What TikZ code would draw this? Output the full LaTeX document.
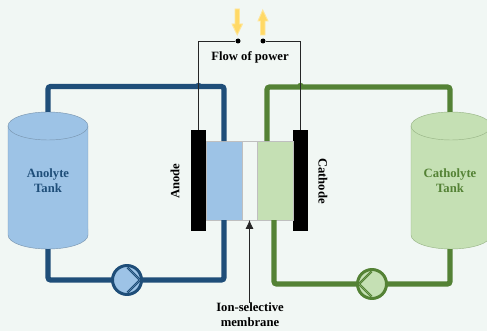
\documentclass[tikz,border=0pt]{standalone}
\usepackage{fontspec}
\setmainfont{Liberation Serif}
\usetikzlibrary{calc, positioning, shapes.geometric, arrows.meta}
\definecolor{bgtint}{HTML}{F1F7F4}
\definecolor{anolytefill}{HTML}{9DC3E6}
\definecolor{anolyteline}{HTML}{1F4E79}
\definecolor{catholytefill}{HTML}{C5E0B4}
\definecolor{catholyteline}{HTML}{548235}
\definecolor{powerfill}{HTML}{FFD966}
\definecolor{powerline}{HTML}{FFE699}
\tikzset{
	lbl/.style={font=\fontsize{7.2}{8.6}\selectfont\bfseries, align=center, inner sep=0},
	tankbody/.style={draw=#1!60!white, line width=0.25pt},
	pipe/.style={line width=3pt, rounded corners=1.5pt},
	pump/.style={circle, line width=1.7pt, minimum size=0.58cm, inner sep=0, outer sep=0},
	electrode/.style={fill=black, minimum width=0.3cm, minimum height=2.02cm, inner sep=0, outer sep=0},
	cellpart/.style={draw=black!25, line width=0.3pt, minimum width=0.72cm, minimum height=1.58cm, inner sep=0, outer sep=0},
	terminal/.style={circle, fill=black, minimum size=0.1cm, inner sep=0},
	crossing/.style={circle, minimum size=0.13cm, inner sep=0},
	wire/.style={line width=0.45pt, black!85},
	flowarrow/.style={fill=powerfill, draw=powerline, line width=0.5pt},
}

\begin{document}
\begin{tikzpicture}[x=0.02cm, y=-0.02cm]
	\fill[bgtint] (0,0) rectangle (487,331);
	\useasboundingbox (0,0) rectangle (487,331);

	% tanks
	\foreach \cx/\fillc/\linec in {48/anolytefill/anolyteline, 451/catholytefill/catholyteline}{
		\filldraw[fill=\fillc, tankbody=\linec] (\cx-40,126) arc[start angle=180, delta angle=-180, x radius=0.8cm, y radius=0.28cm] -- (\cx+40,235) arc[start angle=0, delta angle=-180, x radius=0.8cm, y radius=0.28cm] -- cycle;
		\draw[tankbody=\linec] (\cx-40,126) arc[start angle=180, delta angle=180, x radius=0.8cm, y radius=0.28cm];
	}
	\coordinate (anolytetop) at (48,112);
	\coordinate (anolytebot) at (48,249);
	\coordinate (catholytetop) at (450,112);
	\coordinate (catholytebot) at (450,249);
	\node[lbl, text=anolyteline] (anolytelbl) at (48,181) {Anolyte\\Tank};
	\node[lbl, text=catholyteline] (catholytelbl) at (450,181) {Catholyte\\Tank};

	% cell
	\node[electrode] (anode) at (198.5,180.5) {};
	\node[electrode] (cathode) at (300.5,180.5) {};
	\node[cellpart, fill=anolytefill, right=0 of anode] (halfa) {};
	\node[cellpart, fill=catholytefill, left=0 of cathode] (halfc) {};
	\node[cellpart, fill=bgtint, minimum width=0.3cm] (membrane) at (249.5,180.5) {};
	\node[lbl, rotate=90] (anodelbl) at (175,181) {Anode};
	\node[lbl, rotate=-90] (cathodelbl) at (323,181) {Cathode};

	% pumps
	\node[pump, draw=anolyteline, fill=anolytefill] (pumpa) at (127,280) {};
	\node[pump, draw=catholyteline, fill=catholytefill] (pumpc) at (372,284) {};
	\foreach \s in {1,0.86}{
		\draw[anolyteline, line width=0.6pt] ($(pumpa.center)+(0,-14*\s)$) -- ($(pumpa.center)+(14*\s,0)$) -- ($(pumpa.center)+(0,14*\s)$);
		\draw[catholyteline, line width=0.6pt] ($(pumpc.center)+(0,-14*\s)$) -- ($(pumpc.center)+(-14*\s,0)$) -- ($(pumpc.center)+(0,14*\s)$);
	}

	% pipes
	\coordinate (topa) at (224,86.5);
	\coordinate (topc) at (267,87);
	\coordinate (bota) at (224,220);
	\coordinate (botc) at (274,220);
	\draw[pipe, anolyteline] (anolytetop) |- (topa) -- (topa |- halfa.north);
	\draw[pipe, anolyteline] (anolytebot) |- (pumpa.west);
	\draw[pipe, anolyteline] (pumpa.east) -| (bota);
	\draw[pipe, catholyteline] (catholytetop) |- (topc) -- (topc |- halfc.north);
	\draw[pipe, catholyteline] (catholytebot) |- (pumpc.east);
	\draw[pipe, catholyteline] (pumpc.west) -| (botc);
	\node[crossing, fill=anolyteline] (crossa) at (198.5,86) {};
	\node[crossing, fill=catholyteline] (crossc) at (300.5,86) {};

	% power
	\node[terminal] (terma) at (238,41) {};
	\node[terminal] (termc) at (263,41) {};
	\node[lbl] (flowlbl) at (250,57) {Flow of power};
	\draw[wire] (terma) -| (anode.north);
	\draw[wire] (termc) -| (cathode.north);
	\draw[flowarrow] (235,9) -- (239.5,9) -- (239.5,24) -- (242.5,24) -- (237.25,35) -- (232,24) -- (235,24) -- cycle;
	\draw[flowarrow] (260.5,35) -- (265,35) -- (265,21) -- (268,21) -- (262.75,10) -- (258,21) -- (260.5,21) -- cycle;

	% membrane label
	\node[lbl] (membranelbl) at (250,315) {Ion-selective\\membrane};
	\draw[-{Latex[length=5pt,width=4.5pt]}, wire] (membranelbl.north -| membrane) -- (membrane.south);
\end{tikzpicture}
\end{document}
